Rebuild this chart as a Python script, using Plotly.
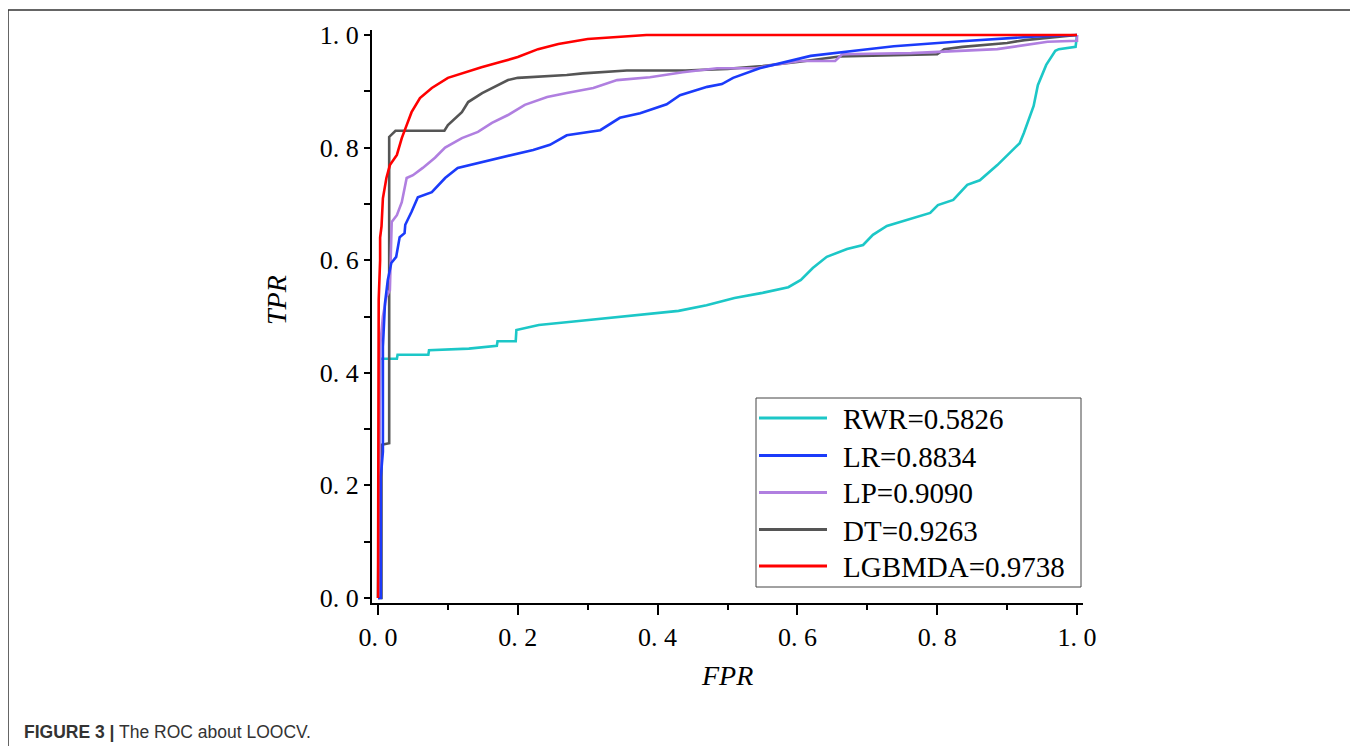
import plotly.graph_objects as go

# ---------------- data ----------------
rwr_fpr = [0.0, 0.003, 0.027, 0.028, 0.072, 0.073, 0.13, 0.17, 0.171, 0.197, 0.198, 0.23, 0.28,
           0.33, 0.38, 0.43, 0.47, 0.51, 0.55, 0.575, 0.587, 0.605, 0.622, 0.642, 0.671, 0.694,
           0.708, 0.728, 0.765, 0.79, 0.801, 0.823, 0.843, 0.861, 0.886, 0.908, 0.918, 0.924,
           0.938, 0.944, 0.956, 0.969, 0.974, 0.998, 1.0]
rwr_tpr = [0.0, 0.425, 0.425, 0.432, 0.432, 0.44, 0.443, 0.448, 0.456, 0.456, 0.476, 0.485, 0.491,
           0.497, 0.503, 0.51, 0.52, 0.533, 0.542, 0.549, 0.552, 0.565, 0.586, 0.606, 0.62, 0.627,
           0.645, 0.661, 0.675, 0.684, 0.698, 0.707, 0.734, 0.742, 0.769, 0.796, 0.808, 0.826,
           0.874, 0.911, 0.947, 0.972, 0.975, 0.979, 1.0]

lr_fpr = [0.0, 0.004, 0.004, 0.007, 0.007, 0.01, 0.014, 0.019, 0.026, 0.031, 0.038, 0.039, 0.048,
          0.057, 0.077, 0.096, 0.114, 0.149, 0.177, 0.21, 0.222, 0.246, 0.27, 0.318, 0.346, 0.375,
          0.413, 0.432, 0.471, 0.492, 0.508, 0.546, 0.604, 0.619, 0.688, 0.738, 0.835, 0.934, 1.0]
lr_tpr = [0.0, 0.0, 0.215, 0.26, 0.446, 0.524, 0.565, 0.595, 0.606, 0.641, 0.648, 0.663, 0.686,
          0.712, 0.721, 0.746, 0.764, 0.774, 0.782, 0.792, 0.796, 0.805, 0.822, 0.831, 0.853, 0.861,
          0.877, 0.893, 0.908, 0.913, 0.924, 0.941, 0.959, 0.963, 0.973, 0.98, 0.989, 0.997, 1.0]

lp_fpr = [0.0, 0.001, 0.003, 0.007, 0.012, 0.017, 0.0196, 0.027, 0.034, 0.041, 0.05, 0.064, 0.0815,
          0.096, 0.12, 0.143, 0.163, 0.186, 0.21, 0.242, 0.27, 0.308, 0.342, 0.389, 0.436, 0.485,
          0.541, 0.556, 0.604, 0.654, 0.664, 0.763, 0.886, 0.958, 1.0, 1.0]
lp_tpr = [0.0, 0.0, 0.446, 0.5, 0.535, 0.547, 0.668, 0.68, 0.703, 0.746, 0.751, 0.764, 0.782,
          0.8, 0.817, 0.828, 0.844, 0.858, 0.876, 0.89, 0.897, 0.906, 0.92, 0.925, 0.934, 0.941,
          0.941, 0.945, 0.954, 0.954, 0.966, 0.968, 0.975, 0.988, 0.99, 1.0]

dt_fpr = [0.0, 0.005, 0.005, 0.016, 0.016, 0.025, 0.095, 0.1, 0.12, 0.129, 0.149, 0.163, 0.186,
          0.2, 0.27, 0.293, 0.356, 0.44, 0.5, 0.55, 0.6, 0.66, 0.8, 0.81, 0.836, 0.9, 0.925, 1.0]
dt_tpr = [0.0, 0.0, 0.272, 0.275, 0.819, 0.83, 0.83, 0.84, 0.863, 0.881, 0.897, 0.906, 0.92,
          0.924, 0.929, 0.932, 0.937, 0.937, 0.94, 0.945, 0.952, 0.962, 0.966, 0.975, 0.979, 0.986,
          0.991, 1.0]

lgb_fpr = [0.0, 0.0, 0.001, 0.003, 0.003, 0.005, 0.006, 0.007, 0.012, 0.017, 0.027, 0.034, 0.041,
           0.048, 0.06, 0.077, 0.1, 0.124, 0.148, 0.175, 0.2, 0.229, 0.258, 0.3, 0.341, 0.384, 1.0]
lgb_tpr = [0.0, 0.3, 0.53, 0.6, 0.64, 0.66, 0.69, 0.71, 0.746, 0.769, 0.787, 0.817, 0.84,
           0.863, 0.888, 0.906, 0.924, 0.934, 0.943, 0.952, 0.961, 0.975, 0.984, 0.993, 0.996, 1.0, 1.0]

series_names = ["RWR=0.5826", "LR=0.8834", "LP=0.9090", "DT=0.9263", "LGBMDA=0.9738"]
series_colors = ["#1CC7C7", "#1B3BFA", "#B07FE0", "#555555", "#FF0000"]

tick_vals = [0.0, 0.2, 0.4, 0.6, 0.8, 1.0]
tick_text = ["0. 0", "0. 2", "0. 4", "0. 6", "0. 8", "1. 0"]
minor_vals = [0.1, 0.3, 0.5, 0.7, 0.9]

# ---------------- layout helpers (page pixels -> paper coords) ----------------
PLOT_L, PLOT_T, PLOT_W, PLOT_H = 372, 30, 711, 573   # plot area on the page


def px_x(px):
    return (px - PLOT_L) / PLOT_W


def px_y(py):
    return (PLOT_T + PLOT_H - py) / PLOT_H


# ---------------- figure ----------------
series = [
    (rwr_fpr, rwr_tpr, 0),
    (dt_fpr, dt_tpr, 3),
    (lp_fpr, lp_tpr, 2),
    (lr_fpr, lr_tpr, 1),
    (lgb_fpr, lgb_tpr, 4),
]

fig = go.Figure()
for xs, ys, idx in series:
    fig.add_trace(go.Scatter(
        x=xs, y=ys, mode="lines", name=series_names[idx],
        line=dict(color=series_colors[idx], width=2.6),
        showlegend=False,
    ))

serif = "Liberation Serif, Times New Roman, serif"

# page body has an 8px margin, so the figure is 8px smaller than the window
fig.update_layout(
    width=1350, height=738,
    margin=dict(l=PLOT_L - 8, r=1350 - (PLOT_L - 8) - PLOT_W, t=PLOT_T - 8,
                b=738 - (PLOT_T - 8) - PLOT_H),
    paper_bgcolor="white", plot_bgcolor="white",
    showlegend=False,
    font=dict(family=serif, color="black"),
)

fig.update_xaxes(
    range=[-0.0086, 1.0086], showgrid=False, zeroline=False,
    showline=True, linecolor="black", linewidth=2,
    tickvals=tick_vals, ticktext=tick_text,
    ticks="outside", ticklen=10, tickwidth=2, tickcolor="black",
    tickfont=dict(family=serif, size=26, color="black"),
    minor=dict(tickvals=minor_vals, ticks="outside", ticklen=5, tickwidth=2, tickcolor="black"),
)
fig.update_yaxes(
    range=[-0.009, 1.009], showgrid=False, zeroline=False,
    showline=True, linecolor="black", linewidth=2,
    tickvals=tick_vals, ticktext=tick_text,
    ticks="outside", ticklen=6, tickwidth=2, tickcolor="black",
    tickfont=dict(family=serif, size=26, color="black"),
    minor=dict(tickvals=minor_vals, ticks="outside", ticklen=6, tickwidth=2, tickcolor="black"),
)

# legend box drawn in the reference style (long line samples)
fig.add_shape(type="rect", xref="paper", yref="paper",
              x0=px_x(756), x1=px_x(1081), y0=px_y(587), y1=px_y(398),
              line=dict(color="#444444", width=1), fillcolor="white", layer="above")
legend_rows = [418, 455.5, 492.5, 529.5, 566]
for name, color, row in zip(series_names, series_colors, legend_rows):
    fig.add_shape(type="line", xref="paper", yref="paper",
                  x0=px_x(759), x1=px_x(827), y0=px_y(row), y1=px_y(row),
                  line=dict(color=color, width=3), layer="above")
    fig.add_annotation(text=name, xref="paper", yref="paper", x=px_x(841), y=px_y(row + 1),
                       xanchor="left", yanchor="middle", showarrow=False,
                       font=dict(family=serif, size=29, color="black"))

fig.add_annotation(text="<i>FPR</i>", xref="paper", yref="paper", x=px_x(727), y=px_y(675),
                   xanchor="center", yanchor="middle", showarrow=False,
                   font=dict(family=serif, size=28, color="black"))
fig.add_annotation(text="<i>TPR</i>", xref="paper", yref="paper", x=px_x(276), y=px_y(300),
                   xanchor="center", yanchor="middle", showarrow=False, textangle=-90,
                   font=dict(family=serif, size=28, color="black"))
fig.add_annotation(text="<b>FIGURE 3 |</b> The ROC about LOOCV.", xref="paper", yref="paper",
                   x=px_x(22), y=px_y(732), xanchor="left", yanchor="middle", showarrow=False,
                   font=dict(family="Liberation Sans, Arial, sans-serif", size=17.5, color="#333333"))

# outer frame of the figure panel
fig.add_shape(type="rect", xref="paper", yref="paper",
              x0=px_x(8), x1=px_x(1355), y0=px_y(790), y1=px_y(10),
              line=dict(color="#333333", width=1.5), fillcolor="rgba(0,0,0,0)", layer="below")

fig.write_html("out.html")
